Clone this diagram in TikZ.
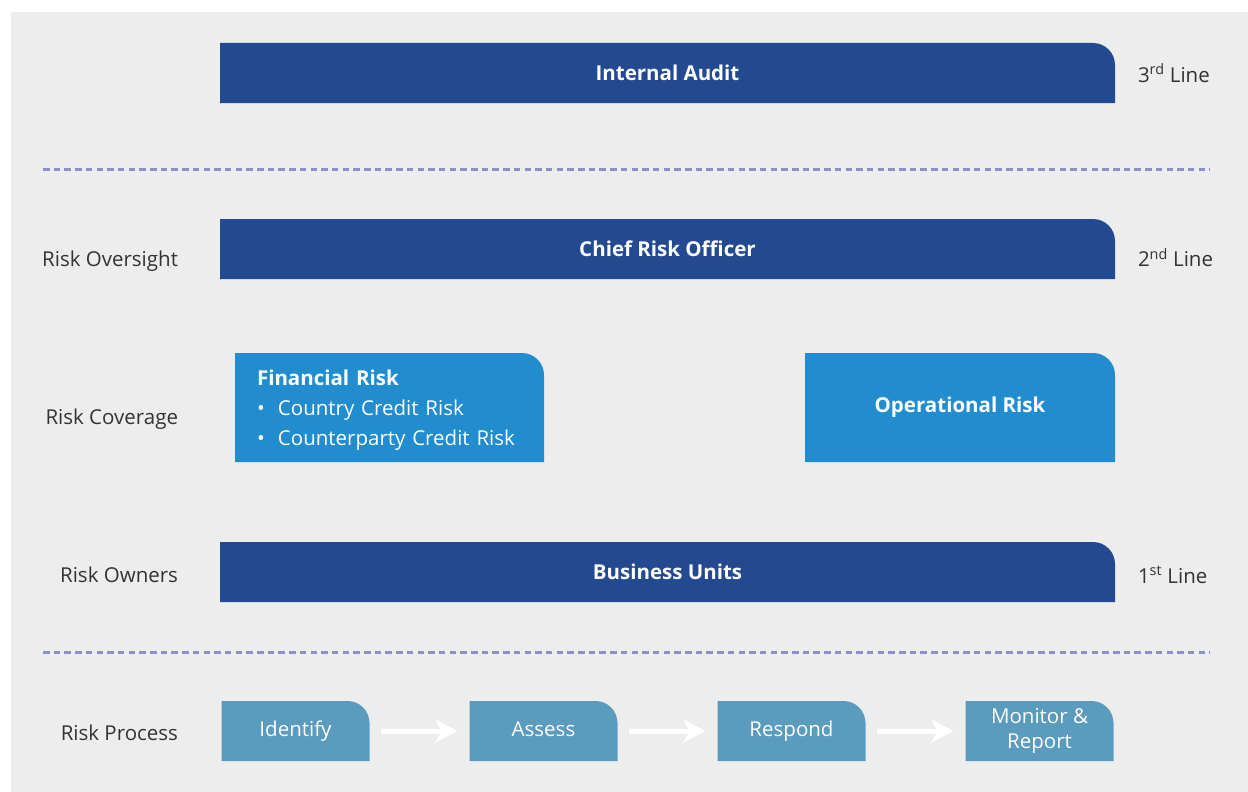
\documentclass[tikz,border=0pt]{standalone}
\usepackage{fontspec}
\setmainfont{Open Sans}
\usepackage{xcolor}
\usepackage{tikz}
\usetikzlibrary{arrows.meta}
\usetikzlibrary{backgrounds}
\usetikzlibrary{positioning}

\definecolor{navy}{HTML}{234A91}
\definecolor{skyblue}{HTML}{218DCF}
\definecolor{steel}{HTML}{5A9BBE}
\definecolor{panel}{HTML}{EDEDED}
\definecolor{divider}{HTML}{8B90C6}
\definecolor{labelgray}{HTML}{333333}

\newcommand{\tabfill}[2]{\fill[#2] (#1.south west) |- ([xshift=-22pt]#1.north east)
    arc[start angle=90, end angle=0, radius=22pt] -- (#1.south east) -- cycle;}

\begin{document}
\begin{tikzpicture}[x=1pt, y=1pt]
        \tikzset{
            every node/.style={
                inner sep=0pt,
                outer sep=0pt,
                font=\fontsize{20.5}{25}\selectfont,
            },
            bar/.style={
                minimum width=895pt,
                minimum height=60pt,
                text height=14.6pt,
                text depth=0pt,
                text=white,
                font=\fontsize{20.5}{25}\selectfont\bfseries,
            },
            riskbox/.style={
                minimum height=109pt,
                text=white,
            },
            stage/.style={
                minimum width=148pt,
                minimum height=60pt,
                text height=14.6pt,
                text depth=4pt,
                text=white,
                align=center,
            },
            rowlabel/.style={anchor=base east, text=labelgray},
            linelabel/.style={anchor=base west, text=labelgray},
            divider line/.style={draw=divider, line width=3pt, dash pattern=on 6.5pt off 4.2pt},
            flow/.style={draw=white, line width=5pt, -{Stealth[length=22pt, width=23pt, inset=6pt]}},
        }
        \useasboundingbox (0,0) rectangle (1248,-792);

        \node[bar] (audit) at (667.5,-73) {Internal Audit};
        \node[bar, below=116pt of audit] (cro) {Chief Risk Officer};
        \node[riskbox, text width=265pt, inner xsep=22pt, align=left, text depth=60pt,
              font=\fontsize{20.5}{30}\selectfont] (financial) at (389.5,-407.5)
            {{\bfseries Financial Risk}\\
             \makebox[21pt][l]{\textbullet}Country Credit Risk\\
             \makebox[21pt][l]{\textbullet}Counterparty Credit Risk};
        \node[riskbox, minimum width=310pt, text height=14.6pt, text depth=4pt,
              font=\fontsize{20.5}{25}\selectfont\bfseries]
            (operational) at (960,-407.5) {Operational Risk};
        \node[bar] (units) at (667.5,-572) {Business Units};

        \node[stage] (identify) at (295.5,-731) {Identify};
        \node[stage, right=100pt of identify] (assess) {Assess};
        \node[stage, right=100pt of assess] (respond) {Respond};
        \node[stage, right=100pt of respond, text height=39.6pt] (monitor) {Monitor \&\\Report};

        \node[rowlabel] (oversight) at (178,-266.7) {Risk Oversight};
        \node[rowlabel] (coverage) at (178,-424.7) {Risk Coverage};
        \node[rowlabel] (owners) at (178,-582.7) {Risk Owners};
        \node[rowlabel] (process) at (178,-740.7) {Risk Process};

        \node[linelabel] (third) at (1138,-82.3) {3\textsuperscript{rd} Line};
        \node[linelabel] (second) at (1138,-266.7) {2\textsuperscript{nd} Line};
        \node[linelabel] (first) at (1138,-583.3) {1\textsuperscript{st} Line};

        \draw[divider line] (43,-169) -- (1210,-169);
        \draw[divider line] (43,-652) -- (1210,-652);

        \draw[flow] ([xshift=11pt]identify.east) -- ([xshift=-12pt]assess.west);
        \draw[flow] ([xshift=11pt]assess.east) -- ([xshift=-12pt]respond.west);
        \draw[flow] ([xshift=11pt]respond.east) -- ([xshift=-12pt]monitor.west);

        \begin{scope}[on background layer]
            \fill[panel] (11,-12) rectangle (1248,-792);
            \tabfill{audit}{navy}
            \tabfill{cro}{navy}
            \tabfill{financial}{skyblue}
            \tabfill{operational}{skyblue}
            \tabfill{units}{navy}
            \tabfill{identify}{steel}
            \tabfill{assess}{steel}
            \tabfill{respond}{steel}
            \tabfill{monitor}{steel}
        \end{scope}
\end{tikzpicture}
\end{document}
